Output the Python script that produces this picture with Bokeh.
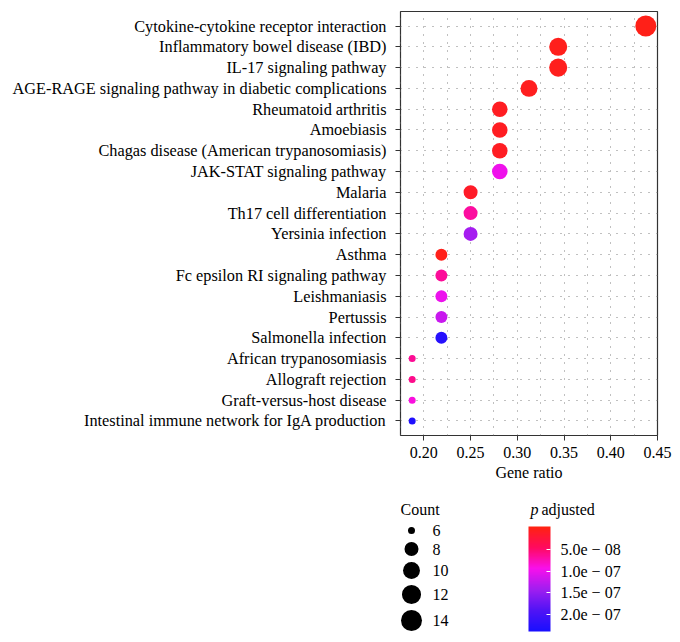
import numpy as np
from bokeh.plotting import figure
from bokeh.models import (Range1d, FactorRange, LinearColorMapper, ColorBar, FixedTicker,
                          ColumnDataSource, NumeralTickFormatter, AllLabels)
from bokeh.layouts import column
from bokeh.embed import file_html
from bokeh.resources import INLINE
from bokeh.core.properties import value

# ---------------- data ----------------
pathways = [
    "Cytokine-cytokine receptor interaction",
    "Inflammatory bowel disease (IBD)",
    "IL-17 signaling pathway",
    "AGE-RAGE signaling pathway in diabetic complications",
    "Rheumatoid arthritis",
    "Amoebiasis",
    "Chagas disease (American trypanosomiasis)",
    "JAK-STAT signaling pathway",
    "Malaria",
    "Th17 cell differentiation",
    "Yersinia infection",
    "Asthma",
    "Fc epsilon RI signaling pathway",
    "Leishmaniasis",
    "Pertussis",
    "Salmonella infection",
    "African trypanosomiasis",
    "Allograft rejection",
    "Graft-versus-host disease",
    "Intestinal immune network for IgA production",
]
gene_ratio = [0.4375, 0.34375, 0.34375, 0.3125, 0.28125, 0.28125, 0.28125, 0.28125,
              0.25, 0.25, 0.25, 0.21875, 0.21875, 0.21875, 0.21875, 0.21875,
              0.1875, 0.1875, 0.1875, 0.1875]
counts = [14, 11, 11, 10, 9, 9, 9, 9, 8, 8, 8, 7, 7, 7, 7, 7, 6, 6, 6, 6]
p_adjusted = [2.0e-9, 4.0e-9, 5.0e-9, 6.0e-9, 8.0e-9, 8.0e-9, 9.0e-9, 9.8e-8,
              1.2e-8, 6.7e-8, 1.39e-7, 3.0e-9, 6.5e-8, 1.0e-7, 1.2e-7, 2.28e-7,
              6.3e-8, 6.0e-8, 8.9e-8, 2.34e-7]

x_breaks = [0.20, 0.25, 0.30, 0.35, 0.40, 0.45]
count_breaks = [6, 8, 10, 12, 14]
p_breaks = [5.0e-8, 1.0e-7, 1.5e-7, 2.0e-7]
p_break_labels = ["5.0e − 08", "1.0e − 07", "1.5e − 07", "2.0e − 07"]

# ---------------- styles / scales ----------------
FONT = "Liberation Serif"
FS = "16px"
FS_Y = "16.3px"
W = 680
H_MAIN = 493
H_LEG = 149
TOP_LEG = H_MAIN              # page y of legend strip top (page has no margin)
FR_L, FR_R = 400, 657         # page x of the (shared) plot frame

cmin, cmax = min(counts), max(counts)
def dot_size(c):
    return 7 + 14 * np.sqrt((np.asarray(c, dtype=float) - cmin) / (cmax - cmin))

stops = [(0.0, (255, 35, 15)), (0.2, (255, 10, 95)), (0.4, (248, 16, 236)),
         (0.6, (160, 30, 240)), (0.8, (80, 20, 245)), (1.0, (25, 15, 255))]
def make_palette(n=256):
    ts = np.array([s[0] for s in stops])
    cs = np.array([s[1] for s in stops], dtype=float)
    out = []
    for t in np.linspace(0, 1, n):
        rgb = [np.interp(t, ts, cs[:, k]) for k in range(3)]
        out.append("#%02x%02x%02x" % tuple(int(round(v)) for v in rgb))
    return out
palette = make_palette()

pmin, pmax = min(p_adjusted), max(p_adjusted)
ext = (pmax - pmin) / 38.0
mapper = LinearColorMapper(palette=palette, low=pmin - ext, high=pmax + ext)
# colour bar shows small p at the top (as ggplot's reversed guide): negate values
bar_mapper = LinearColorMapper(palette=palette[::-1], low=-(pmax + ext), high=-(pmin - ext))

xmin, xmax = min(gene_ratio), max(gene_ratio)
xpad = 0.05 * (xmax - xmin)

# ---------------- main plot ----------------
p = figure(width=W, height=H_MAIN,
           x_range=Range1d(xmin - xpad, xmax + xpad),
           y_range=FactorRange(factors=pathways[::-1], range_padding=0.2,
                               range_padding_units="absolute"),
           output_backend="svg", toolbar_location=None,
           min_border_left=FR_L, min_border_right=W - FR_R,
           min_border_top=11, min_border_bottom=H_MAIN - 435)

src = ColumnDataSource(dict(x=gene_ratio, y=pathways, size=dot_size(counts), p=p_adjusted))
p.scatter(x="x", y="y", size="size", source=src, line_color=None,
          fill_color={"field": "p", "transform": mapper})

p.outline_line_color = "#333333"
p.outline_line_width = 1.2
p.background_fill_color = "white"
p.border_fill_color = "white"

p.xaxis.ticker = FixedTicker(ticks=x_breaks, minor_ticks=[b - 0.025 for b in x_breaks])
p.xaxis.formatter = NumeralTickFormatter(format="0.00")
p.xaxis.axis_label = "Gene ratio"
for ax in (p.xaxis[0], p.yaxis[0]):
    ax.axis_line_color = None
    ax.major_tick_line_color = "#333333"
    ax.major_tick_out = 5
    ax.major_tick_in = 0
    ax.minor_tick_line_color = None
    ax.major_label_text_font = FONT
    ax.major_label_text_font_size = FS
    ax.major_label_text_color = "black"
    ax.axis_label_text_font = FONT
    ax.axis_label_text_font_size = FS
    ax.axis_label_text_font_style = "normal"
    ax.axis_label_text_color = "black"
p.yaxis.major_label_text_font_size = FS_Y
p.xaxis.major_label_standoff = 6
p.xaxis.axis_label_standoff = 3
p.yaxis.major_label_standoff = 9

p.xgrid.grid_line_color = "#808080"
p.xgrid.grid_line_dash = "1 7"
p.xgrid.grid_line_width = 1
p.xgrid.minor_grid_line_color = "#808080"
p.xgrid.minor_grid_line_dash = "1 7"
p.ygrid.grid_line_color = "#808080"
p.ygrid.grid_line_dash = "1 7"
p.ygrid.grid_line_width = 1

# ---------------- legends (strip below; its frame is aligned with the main frame) ----------------
lg = figure(width=W, height=H_LEG, x_range=Range1d(FR_L, FR_R),
            y_range=Range1d(TOP_LEG + H_LEG, TOP_LEG),
            output_backend="svg", toolbar_location=None, min_border=0,
            min_border_left=FR_L, min_border_right=W - FR_R,
            x_axis_type=None, y_axis_type=None)
lg.grid.visible = False
lg.outline_line_color = None

# count legend (size key)
leg_sizes = dot_size(count_breaks)
key_h = np.maximum(17, leg_sizes + 6)
centers = [530.0]
for i in range(1, len(key_h)):
    centers.append(centers[-1] + (key_h[i - 1] + key_h[i]) / 2.0)
lsrc = ColumnDataSource(dict(x=[411] * len(count_breaks), y=centers, size=leg_sizes,
                             lab=[str(c) for c in count_breaks], lx=[432] * len(count_breaks)))
lg.scatter(x="x", y="y", size="size", source=lsrc, fill_color="black", line_color=None)
lg.text(x="lx", y="y", text="lab", source=lsrc, text_font=value(FONT), text_font_size=FS,
        text_baseline="middle", text_align="left", text_color="black")
lg.text(x=[400], y=[509], text=["Count"], text_font=value(FONT), text_font_size=FS,
        text_baseline="middle", text_align="left", text_color="black")

# color legend
lg.text(x=[530], y=[509], text=["p"], text_font=value(FONT), text_font_size=FS,
        text_font_style="italic", text_baseline="middle", text_align="left", text_color="black")
lg.text(x=[541], y=[509], text=["adjusted"], text_font=value(FONT), text_font_size=FS,
        text_baseline="middle", text_align="left", text_color="black")

cb = ColorBar(color_mapper=bar_mapper, ticker=FixedTicker(ticks=[-b for b in p_breaks]),
              major_label_overrides={-b: l for b, l in zip(p_breaks, p_break_labels)},
              major_label_policy=AllLabels(),
              width=22, height=105, location=(528 - FR_L, (TOP_LEG + H_LEG) - 631), padding=0,
              major_tick_line_color="white", major_tick_in=4, major_tick_out=0,
              minor_tick_line_color=None, bar_line_color=None, border_line_color=None,
              background_fill_alpha=0, label_standoff=10,
              major_label_text_font=FONT, major_label_text_font_size="16px",
              major_label_text_color="black")
lg.add_layout(cb, "center")

layout = column(p, lg, spacing=0)
open("out.html", "w").write(file_html(layout, INLINE))
